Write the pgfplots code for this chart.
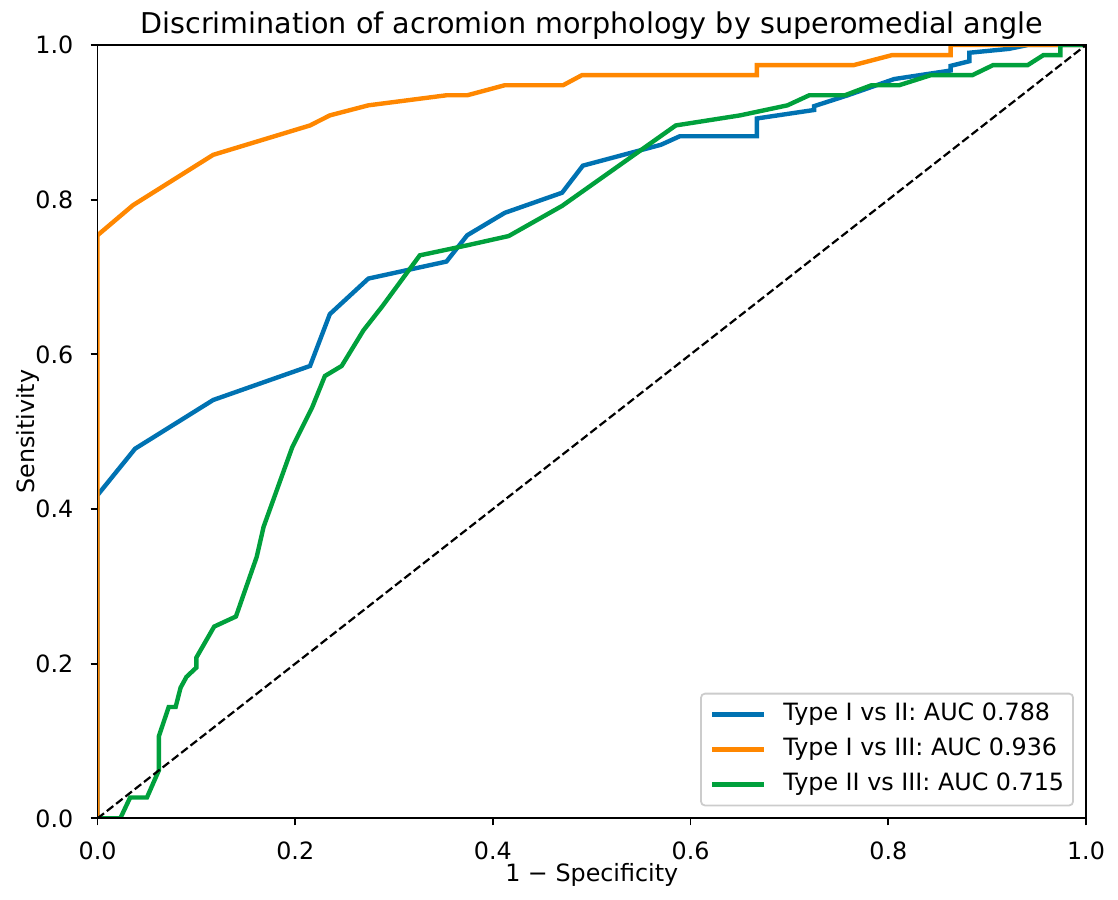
\documentclass[border=0pt]{standalone}
\usepackage{fontspec}
\setmainfont{DejaVu Sans}
\usepackage{pgfplots}
\pgfplotsset{compat=1.18}
\definecolor{cblue}{RGB}{0,114,178}
\definecolor{corange}{RGB}{255,135,0}
\definecolor{cgreen}{RGB}{0,160,60}
\begin{document}
\begin{tikzpicture}
\begin{axis}[
  scale only axis, width=494pt, height=386.5pt,
  xmin=0, xmax=1, ymin=0, ymax=1,
  xtick={0,0.2,0.4,0.6,0.8,1}, ytick={0,0.2,0.4,0.6,0.8,1},
  xticklabels={0.0,0.2,0.4,0.6,0.8,1.0},
  yticklabels={0.0,0.2,0.4,0.6,0.8,1.0},
  tick pos=left, tick align=outside, major tick length=3.5pt,
  every tick/.style={black, line width=0.88pt},
  axis line style={line width=0.88pt},
  tick label style={font=\fontsize{11.9}{14}\selectfont, inner sep=0pt},
  /pgf/number format/assume math mode=true,
  xticklabel style={anchor=north, yshift=-8pt},
  yticklabel style={anchor=east, xshift=-8.4pt},
  axis on top,
  legend style={at={(1,0)}, anchor=south east, xshift=-6pt, yshift=6pt,
    draw=black!20, line width=0.88pt, rounded corners=2pt,
    font=\fontsize{11.9}{14}\selectfont, inner xsep=4.5pt, inner ysep=4pt,
    row sep=4.6pt, column sep=8.5pt,
    nodes={inner xsep=0pt, inner ysep=1pt, text height=8.6pt, text depth=2.3pt}},
  legend cell align=left,
  legend image code/.code={\draw[#1, line width=2.2pt] (0pt,0pt) -- (26pt,0pt);},
]
\addplot[cblue, line width=2.2pt] coordinates {
(0,0) (0,0.418) (0.038,0.478) (0.117,0.541) (0.215,0.585) (0.235,0.652) (0.274,0.698)
(0.353,0.720) (0.374,0.754) (0.412,0.783) (0.470,0.809) (0.491,0.844) (0.570,0.871)
(0.589,0.882) (0.667,0.882) (0.667,0.905) (0.725,0.916) (0.725,0.921) (0.759,0.935)
(0.806,0.956) (0.863,0.967) (0.863,0.973) (0.882,0.979) (0.882,0.990) (0.922,0.995)
(0.941,1.0) (1,1)};
\addlegendentry{Type I vs II: AUC 0.788}
\addplot[corange, line width=2.2pt] coordinates {
(0,0) (0,0.754) (0.036,0.793) (0.117,0.858) (0.215,0.896) (0.235,0.909) (0.274,0.922)
(0.353,0.935) (0.374,0.935) (0.412,0.948) (0.471,0.948) (0.490,0.961) (0.667,0.961)
(0.667,0.974) (0.765,0.974) (0.804,0.987) (0.863,0.987) (0.863,1.0) (1,1)};
\addlegendentry{Type I vs III: AUC 0.936}
\addplot[cgreen, line width=2.2pt] coordinates {
(0,0) (0.023,0) (0.033,0.027) (0.050,0.027) (0.062,0.062) (0.062,0.106) (0.072,0.144)
(0.079,0.144) (0.084,0.169) (0.090,0.183) (0.100,0.195) (0.100,0.208) (0.118,0.248)
(0.140,0.261) (0.161,0.338) (0.168,0.377) (0.197,0.480) (0.217,0.531) (0.230,0.572)
(0.247,0.585) (0.269,0.631) (0.288,0.662) (0.326,0.728) (0.374,0.741) (0.416,0.753)
(0.470,0.792) (0.585,0.896) (0.650,0.909) (0.698,0.922) (0.720,0.935) (0.756,0.935)
(0.783,0.948) (0.811,0.948) (0.843,0.961) (0.885,0.961) (0.906,0.974) (0.941,0.974)
(0.957,0.987) (0.974,0.987) (0.974,1.0) (1,1)};
\addlegendentry{Type II vs III: AUC 0.715}
\addplot[black, line width=1.1pt, dash pattern=on 4.1pt off 1.8pt, forget plot] coordinates {(0,0) (1,1)};
\coordinate (SW) at (rel axis cs:0,0);
\coordinate (NE) at (rel axis cs:1,1);
\coordinate (T) at (rel axis cs:0.5,1);
\coordinate (B) at (rel axis cs:0.5,0);
\coordinate (L) at (rel axis cs:0,0.5);
\end{axis}
\node[anchor=base, inner sep=0pt, font=\fontsize{14.3}{17}\selectfont] at ([yshift=6pt]T) {Discrimination of acromion morphology by superomedial angle};
\node[anchor=base, inner sep=0pt, font=\fontsize{11.9}{14}\selectfont] at ([yshift=-31.5pt]B) {1 − Specificity};
\node[anchor=base, rotate=90, inner sep=0pt, font=\fontsize{11.9}{14}\selectfont] at ([xshift=-31.75pt]L) {Sensitivity};
\pgfresetboundingbox
\path[use as bounding box] ([xshift=-48.75pt,yshift=-40.5pt]SW) rectangle ([xshift=16pt,yshift=22.5pt]NE);
\end{tikzpicture}
\end{document}
